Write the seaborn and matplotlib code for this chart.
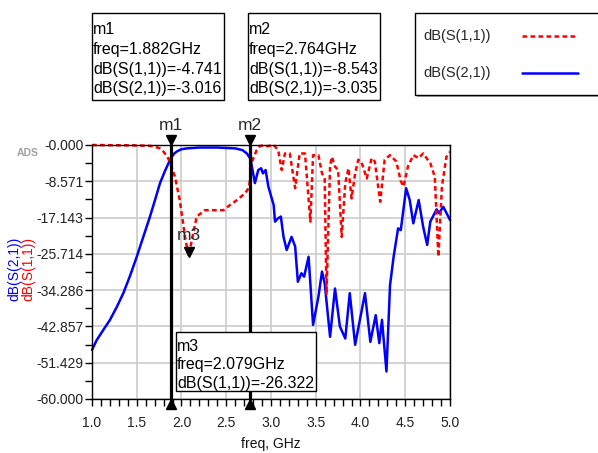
import numpy as np, pandas as pd
import seaborn as sns
import matplotlib.pyplot as plt
import matplotlib.transforms as mtransforms
from matplotlib.patches import Rectangle
from matplotlib.lines import Line2D

sns.set_theme(style="white")
plt.rcParams['font.family'] = ['Liberation Sans', 'DejaVu Sans']

# dB(S(2,1)) - solid blue
s21_freq = [1.00, 1.052, 1.126, 1.201, 1.276, 1.35, 1.425, 1.50, 1.573, 1.648, 1.704, 1.76, 1.816,
            1.872, 1.882, 1.92, 1.95, 2.00, 2.06, 2.20, 2.40, 2.60,
            2.68, 2.73, 2.764, 2.78, 2.82, 2.858, 2.89, 2.91, 2.94, 2.97, 3.03, 3.045, 3.08, 3.11,
            3.14, 3.175, 3.23, 3.27, 3.30, 3.34, 3.37, 3.42, 3.47, 3.53, 3.57, 3.60, 3.66, 3.715,
            3.77, 3.83, 3.88, 3.94, 4.05, 4.11, 4.17, 4.21, 4.24, 4.29, 4.33, 4.37, 4.42, 4.45,
            4.51, 4.55, 4.59, 4.65, 4.70, 4.745, 4.78, 4.85, 4.877, 4.925, 5.00]
s21_db = [-48.4, -46.1, -43.7, -41.3, -38.3, -35.0, -30.9, -26.4, -21.7, -16.9, -13.0, -9.0, -6.1,
          -3.5, -3.016, -2.0, -1.5, -1.0, -0.8, -0.6, -0.6, -0.8,
          -1.2, -2.0, -3.035, -4.3, -9.0, -5.9, -5.5, -6.7, -5.9, -9.8, -14.2, -18.1, -17.3, -16.9,
          -21.7, -24.8, -21.7, -24.0, -32.3, -30.3, -31.1, -26.4, -42.5, -35.8, -29.9, -32.7, -45.3, -33.9,
          -42.9, -45.7, -35.0, -47.2, -35.0, -46.5, -40.2, -46.8, -41.3, -53.5, -33.1, -26.4, -19.7, -20.1,
          -10.2, -13.0, -18.5, -13.0, -19.3, -23.6, -18.1, -15.2, -16.1, -14.6, -17.7]

# dB(S(1,1)) - dashed red
s11_freq = [1.00, 1.50, 1.65, 1.70, 1.76, 1.80, 1.84, 1.87, 1.882, 1.927, 1.98, 2.04, 2.079, 2.12,
            2.17, 2.26, 2.47,
            2.54, 2.62, 2.71, 2.75, 2.764, 2.78, 2.84, 2.88, 2.92, 2.96, 3.00, 3.03, 3.08, 3.12,
            3.156, 3.21, 3.27, 3.32, 3.38, 3.44, 3.47, 3.53, 3.57, 3.60, 3.62, 3.66, 3.68, 3.715,
            3.75, 3.79, 3.83, 3.865, 3.90, 3.94, 3.975, 4.01, 4.07, 4.125, 4.16, 4.22, 4.27, 4.33,
            4.40, 4.45, 4.48, 4.53, 4.59, 4.65, 4.70, 4.78, 4.83, 4.87, 4.91, 4.96, 5.00]
s11_db = [0.0, -0.1, -0.2, -0.4, -0.8, -1.6, -2.7, -4.0, -4.741, -7.5, -13.0, -21.7, -26.322, -22.0,
          -16.9, -15.4, -15.4,
          -14.2, -13.0, -11.4, -10.2, -8.543, -4.3, -1.2, -0.2, -0.1, -0.3, -0.1, 0.0, -1.2, -5.9,
          -2.0, -2.0, -10.2, -2.0, -2.0, -18.1, -2.4, -2.4, -6.7, -8.0, -35.4, -5.0, -2.8, -5.1,
          -5.9, -21.7, -9.0, -5.5, -12.6, -6.7, -3.5, -4.0, -7.9, -3.1, -3.9, -13.4, -3.5, -2.4,
          -3.9, -8.5, -9.8, -5.1, -2.4, -3.1, -2.0, -4.3, -7.5, -26.4, -9.8, -2.8, -1.6]

# markers
m1 = {"freq": 1.882, "s11": -4.741, "s21": -3.016}
m2 = {"freq": 2.764, "s11": -8.543, "s21": -3.035}
m3 = {"freq": 2.079, "s11": -26.322}

y_ticks = [0.0, -8.571, -17.143, -25.714, -34.286, -42.857, -51.429, -60.0]
y_tick_labels = ["-0.000", "-8.571", "-17.143", "-25.714", "-34.286", "-42.857", "-51.429", "-60.000"]
x_ticks = [1.0, 1.5, 2.0, 2.5, 3.0, 3.5, 4.0, 4.5, 5.0]
x_tick_labels = ["1.0", "1.5", "2.0", "2.5", "3.0", "3.5", "4.0", "4.5", "5.0"]

W, H = 598, 453
fig = plt.figure(figsize=(W / 100, H / 100), dpi=100)
ax = fig.add_axes([92 / W, 1 - 399 / H, 358 / W, 254 / H])

df21 = pd.DataFrame({"freq": s21_freq, "dB": s21_db})
df11 = pd.DataFrame({"freq": s11_freq, "dB": s11_db})
sns.lineplot(data=df21, x="freq", y="dB", color="#0000ff", lw=1.8, ax=ax, zorder=2)
sns.lineplot(data=df11, x="freq", y="dB", color="#ff0000", lw=1.8, ax=ax, zorder=2.5)
ax.lines[0].set_clip_on(False)
ax.lines[1].set_clip_on(False)
ax.lines[1].set_dashes([1.9, 1.3])

ax.set_xlim(1.0, 5.0)
ax.set_ylim(-60, 0)
ax.set_xticks(x_ticks)
ax.set_xticklabels(x_tick_labels)
ax.set_yticks(y_ticks)
ax.set_yticklabels(y_tick_labels)
ax.set_xticks(np.arange(1.0, 5.01, 0.1), minor=True)
ax.set_yticks(np.linspace(0, -60, 15), minor=True)
ax.grid(True, which="major", color="#cccccc", lw=1.2)
ax.set_axisbelow(True)
for sp in ax.spines.values():
    sp.set_color("black")
    sp.set_linewidth(1.0)
ax.tick_params(axis="y", which="both", left=True, direction="out", length=5, width=1,
               color="black", labelsize=10, labelcolor="#222222", pad=1)
ax.tick_params(axis="x", which="both", bottom=True, direction="out", length=5, width=1,
               color="black", labelsize=10, labelcolor="#222222", pad=7)
ax.set_xlabel("freq, GHz", fontsize=10, labelpad=5, color="#111111")
ax.set_ylabel("")

# y label in two colours
fig.text(14 / W, 1 - 269 / H, "dB(S(2,1))", color="#0000ff", rotation=90,
         ha="center", va="center", fontsize=10)
fig.text(28 / W, 1 - 269 / H, "dB(S(1,1))", color="#ff0000", rotation=90,
         ha="center", va="center", fontsize=10)
fig.text(28 / W, 1 - 153 / H, "ADS", color="#a0a0a0", fontsize=7.5, fontweight="bold",
         ha="center", va="center")

# marker lines m1, m2
up = mtransforms.offset_copy(ax.transData, fig=fig, y=3.5, units="points")
down = mtransforms.offset_copy(ax.transData, fig=fig, y=-3.5, units="points")
for name, m in [("m1", m1), ("m2", m2)]:
    ax.axvline(m["freq"], color="black", lw=2.3, zorder=4, clip_on=False)
    ax.plot(m["freq"], 0, marker="v", ms=7, color="black", transform=up, clip_on=False, zorder=5)
    ax.plot(m["freq"], -60, marker="^", ms=7, color="black", transform=down, clip_on=False, zorder=5)
    ax.annotate(name, xy=(m["freq"], 0), xytext=(0, 9), textcoords="offset points",
                ha="center", va="bottom", fontsize=12.5, annotation_clip=False)

# m3 marker on S11
ax.plot(m3["freq"], m3["s11"], marker="v", ms=7, color="black", transform=up, zorder=5)
ax.annotate("m3", xy=(m3["freq"], m3["s11"]), xytext=(0, 10), textcoords="offset points",
            ha="center", va="bottom", fontsize=12.5, zorder=6)


def info_box(x0, y0, x1, y1, lines, base0, step, z=3):
    rect = Rectangle((x0 / W, 1 - y1 / H), (x1 - x0) / W, (y1 - y0) / H, transform=fig.transFigure,
                     facecolor="white", edgecolor="black", lw=1, zorder=z)
    fig.add_artist(rect)
    for i, txt in enumerate(lines):
        fig.text((x0 + 1) / W, 1 - (base0 + i * step) / H, txt, ha="left", va="baseline",
                 fontsize=11.5, color="black", zorder=z + 3)


info_box(92, 13, 224, 100, ["m1", "freq=%.3fGHz" % m1["freq"], "dB(S(1,1))=%.3f" % m1["s11"],
                            "dB(S(2,1))=%.3f" % m1["s21"]], 34, 19.8)
info_box(248, 13, 380, 100, ["m2", "freq=%.3fGHz" % m2["freq"], "dB(S(1,1))=%.3f" % m2["s11"],
                             "dB(S(2,1))=%.3f" % m2["s21"]], 34, 19.8)
info_box(176, 332, 316, 391, ["m3", "freq=%.3fGHz" % m3["freq"], "dB(S(1,1))=%.3f" % m3["s11"]],
         351, 18.5, z=3)

# legend box
fig.add_artist(Rectangle((417 / W, 1 - 97 / H), 190 / W, 84 / H, transform=fig.transFigure,
                         facecolor="#b0b0b0", edgecolor="none"))
fig.add_artist(Rectangle((415 / W, 1 - 95 / H), 190 / W, 82 / H, transform=fig.transFigure,
                         facecolor="white", edgecolor="black", lw=1))
for lab, col, dash, yc in [("dB(S(1,1))", "#ff0000", (1.9, 1.3), 36), ("dB(S(2,1))", "#0000ff", None, 73)]:
    fig.text(423 / W, 1 - yc / H, lab, ha="left", va="center", fontsize=10.5)
    ln = Line2D([522 / W, 578 / W], [1 - yc / H, 1 - yc / H], transform=fig.transFigure,
                color=col, lw=1.8)
    if dash:
        ln.set_dashes(dash)
    fig.add_artist(ln)

fig.savefig("out.png", dpi=100)
